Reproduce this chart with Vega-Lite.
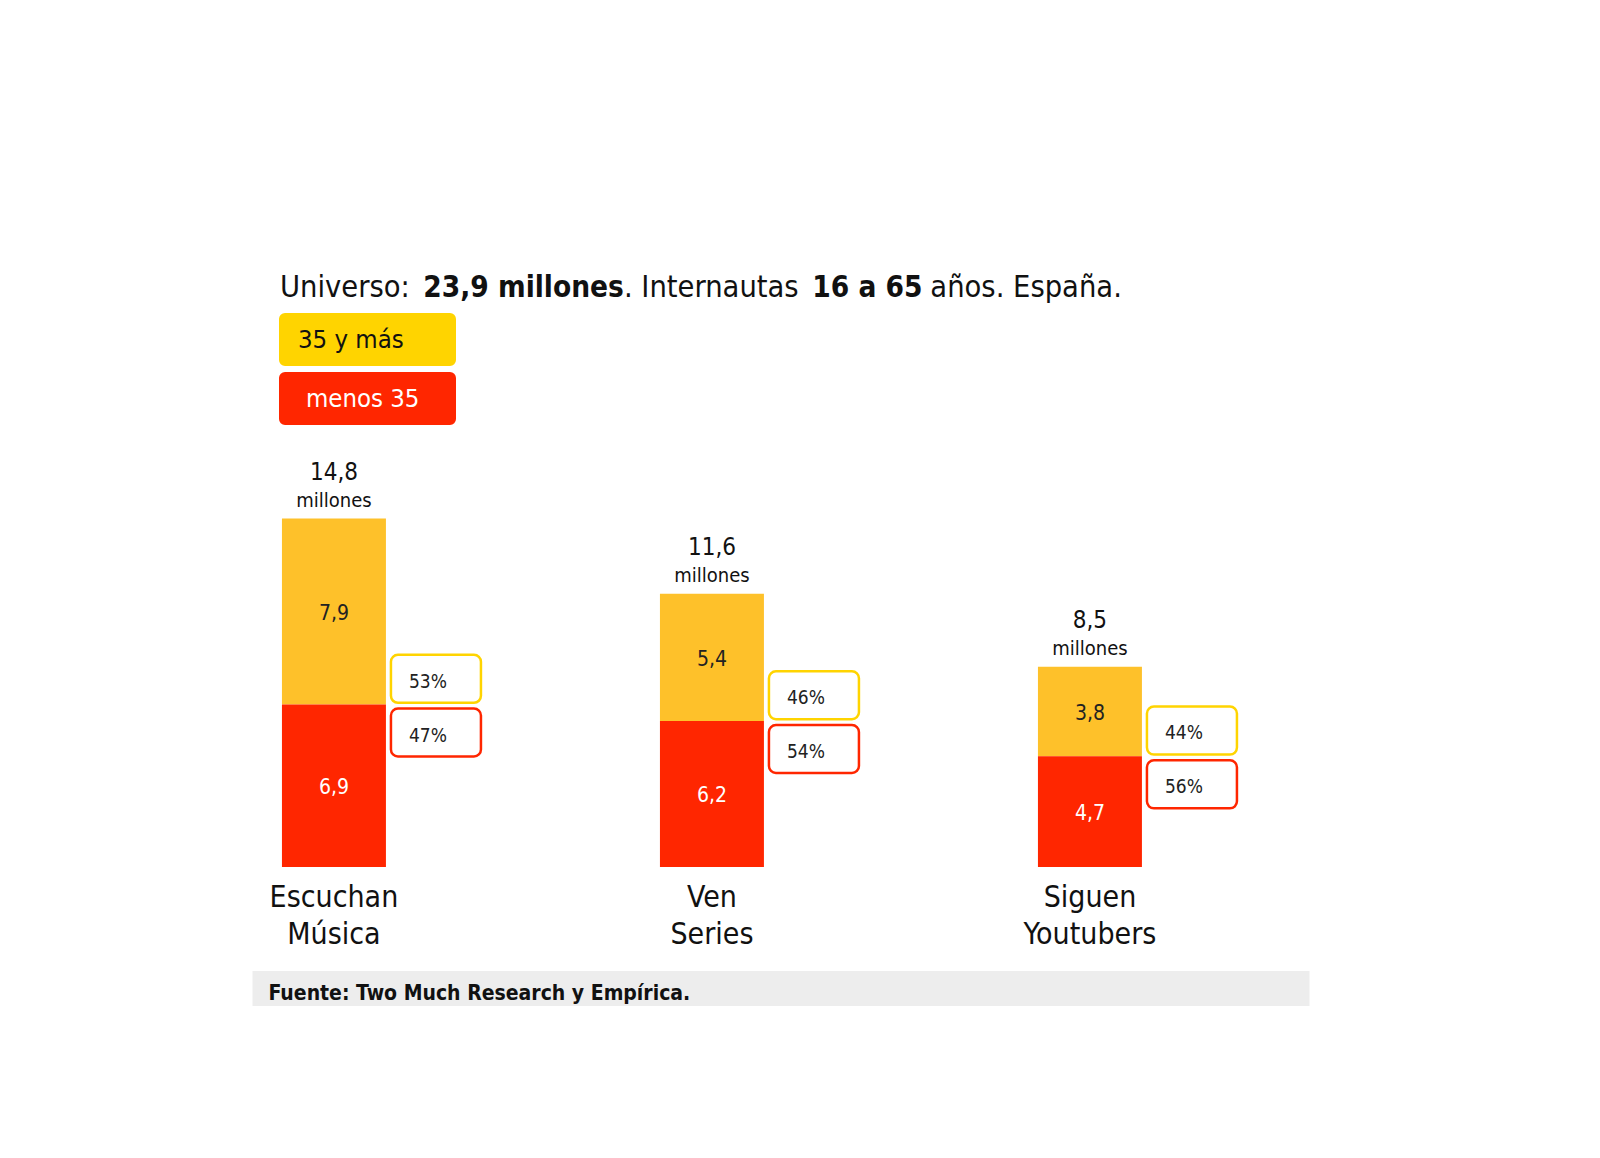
{
  "$schema": "https://vega.github.io/schema/vega-lite/v6.json",
  "description": "Internautas que escuchan música, ven series y siguen youtubers, por edad (millones)",
  "autosize": {"type": "none"},
  "padding": {"left": 252, "top": 396, "right": 291, "bottom": 291},
  "width": 1057,
  "height": 471,
  "background": "white",
  "title": {
    "text": "Universo:\u2003\u2003\u2003\u2003\u2003\u2003\u2003\u2002\u2009\u200a. Internautas\u2003\u2003\u2003\u2003\u2002\u2009\u200aaños. España.",
    "subtitle": "\u2060\u2003\u2003\u2003\u2003\u2003\u2009\u200a\u200a23,9 millones\u2003\u2003\u2003\u2003\u2003\u2003\u2002\u2009\u2009\u200a\u200a16 a 65",
    "anchor": "start",
    "frame": "group",
    "dx": 28,
    "offset": 9,
    "fontSize": 30.5,
    "fontWeight": "normal",
    "color": "#111111",
    "subtitleFontSize": 29.5,
    "subtitleFontWeight": "bold",
    "subtitleColor": "#111111",
    "subtitlePadding": -30
  },
  "data": {
    "values": [
      {"actividad": "Escuchan Música", "edad": "35 y más", "millones": 7.9, "cuota": 0.53},
      {"actividad": "Escuchan Música", "edad": "menos 35", "millones": 6.9, "cuota": 0.47},
      {"actividad": "Ven Series", "edad": "35 y más", "millones": 5.4, "cuota": 0.46},
      {"actividad": "Ven Series", "edad": "menos 35", "millones": 6.2, "cuota": 0.54},
      {"actividad": "Siguen Youtubers", "edad": "35 y más", "millones": 3.8, "cuota": 0.44},
      {"actividad": "Siguen Youtubers", "edad": "menos 35", "millones": 4.7, "cuota": 0.56}
    ]
  },
  "transform": [
    {"stack": "millones", "groupby": ["actividad"], "sort": [{"field": "edad", "order": "descending"}], "as": ["base", "cima"]},
    {"calculate": "(datum.base + datum.cima) / 2", "as": "centro"},
    {"calculate": "datum.edad == 'menos 35' ? datum.cima : datum.base", "as": "corte"}
  ],
  "encoding": {
    "x": {
      "field": "actividad",
      "type": "nominal",
      "scale": {
        "domain": ["Escuchan Música", "Ven Series", "Siguen Youtubers"],
        "paddingInner": 0.7249,
        "paddingOuter": 0.2606,
        "align": 0.152
      },
      "axis": {
        "orient": "bottom",
        "offset": 121,
        "ticks": false,
        "tickSize": 0,
        "grid": false,
        "domainWidth": 35,
        "domainColor": "#ededed",
        "domainCap": "butt",
        "labelAngle": 0,
        "labelFontSize": 30,
        "labelColor": "#111111",
        "labelPadding": -106,
        "labelBaseline": "top",
        "labelLineHeight": 37,
        "labelExpr": "split(datum.label, ' ')",
        "labelOverlap": false,
        "labelFlush": false,
        "labelBound": false,
        "title": "Fuente: Two Much Research y Empírica.",
        "titleFontSize": 21,
        "titleFontWeight": "bold",
        "titleColor": "#111111",
        "titleX": 16,
        "titleY": 11,
        "titleAlign": "left",
        "titleAnchor": "start",
        "titleBaseline": "alphabetic"
      }
    }
  },
  "layer": [
    {
      "mark": {"type": "bar"},
      "encoding": {
        "y": {"field": "base", "type": "quantitative", "scale": {"domain": [0, 20]}, "axis": null},
        "y2": {"field": "cima"},
        "color": {
          "field": "edad",
          "type": "nominal",
          "scale": {"domain": ["35 y más", "menos 35"], "range": ["#fec12a", "#ff2600"]},
          "legend": {
            "orient": "none",
            "legendX": 27,
            "legendY": -83,
            "title": null,
            "direction": "vertical",
            "padding": 0,
            "symbolType": "M-1,-1H0.8644V-0.5367H-1ZM-1,-0.8701H0.8644M-1,-0.7684H0.8644M-1,-0.6667H0.8644",
            "symbolSize": 31329,
            "symbolStrokeWidth": 12,
            "rowPadding": 5,
            "labelFontSize": 25.5,
            "labelOffset": -170,
            "labelAlign": "left",
            "labelBaseline": "middle",
            "labelLimit": 300,
            "encode": {
              "symbols": {"update": {
                "stroke": {"scale": "stroke", "field": "value"},
                "strokeJoin": {"value": "round"},
                "strokeCap": {"value": "butt"},
                "opacity": {"value": 1}
              }},
              "labels": {"update": {
                "fill": {"signal": "datum.label == 'menos 35' ? '#ffffff' : '#111111'"},
                "dx": {"signal": "datum.label == 'menos 35' ? 8 : 0"},
                "dy": {"value": -68}
              }}
            }
          }
        }
      }
    },
    {
      "mark": {"type": "text", "fontSize": 21, "baseline": "middle", "dy": 2.5},
      "encoding": {
        "y": {"field": "centro", "type": "quantitative", "scale": {"domain": [0, 20]}},
        "text": {"field": "millones", "type": "quantitative", "format": ".1f"},
        "fill": {
          "field": "edad",
          "type": "nominal",
          "scale": {"domain": ["35 y más", "menos 35"], "range": ["#222222", "#ffffff"]},
          "legend": null
        }
      }
    },
    {
      "transform": [{"filter": "datum.edad == '35 y más'"}],
      "mark": {
        "type": "point",
        "shape": "M1.4222,-1.1044H3.1111A0.1556,0.1556,0,0,1,3.2667,-0.9489V-0.1933A0.1556,0.1556,0,0,1,3.1111,-0.0378H1.4222A0.1556,0.1556,0,0,1,1.2667,-0.1933V-0.9489A0.1556,0.1556,0,0,1,1.4222,-1.1044Z",
        "filled": true,
        "fill": "white",
        "size": 8100,
        "strokeWidth": 2.5,
        "opacity": 1
      },
      "encoding": {
        "y": {"field": "corte", "type": "quantitative", "scale": {"domain": [0, 20]}},
        "stroke": {
          "field": "edad",
          "type": "nominal",
          "scale": {"domain": ["35 y más", "menos 35"], "range": ["#ffd400", "#ff2600"]},
          "legend": null
        }
      }
    },
    {
      "transform": [{"filter": "datum.edad == 'menos 35'"}],
      "mark": {
        "type": "point",
        "shape": "M1.4222,0.0889H3.1111A0.1556,0.1556,0,0,1,3.2667,0.2445V1.0A0.1556,0.1556,0,0,1,3.1111,1.1556H1.4222A0.1556,0.1556,0,0,1,1.2667,1.0V0.2445A0.1556,0.1556,0,0,1,1.4222,0.0889Z",
        "filled": true,
        "fill": "white",
        "size": 8100,
        "strokeWidth": 2.5,
        "opacity": 1
      },
      "encoding": {
        "y": {"field": "corte", "type": "quantitative", "scale": {"domain": [0, 20]}},
        "stroke": {
          "field": "edad",
          "type": "nominal",
          "scale": {"domain": ["35 y más", "menos 35"], "range": ["#ffd400", "#ff2600"]},
          "legend": null
        }
      }
    },
    {
      "transform": [{"filter": "datum.edad == '35 y más'"}],
      "mark": {"type": "text", "fontSize": 19, "dx": 94, "dy": -23, "baseline": "middle", "color": "#222222"},
      "encoding": {
        "y": {"field": "corte", "type": "quantitative", "scale": {"domain": [0, 20]}},
        "text": {"field": "cuota", "type": "quantitative", "format": ".0%"}
      }
    },
    {
      "transform": [{"filter": "datum.edad == 'menos 35'"}],
      "mark": {"type": "text", "fontSize": 19, "dx": 94, "dy": 31, "baseline": "middle", "color": "#222222"},
      "encoding": {
        "y": {"field": "corte", "type": "quantitative", "scale": {"domain": [0, 20]}},
        "text": {"field": "cuota", "type": "quantitative", "format": ".0%"}
      }
    },
    {
      "transform": [{"aggregate": [{"op": "sum", "field": "millones", "as": "total"}], "groupby": ["actividad"]}],
      "mark": {"type": "text", "fontSize": 24, "dy": -38.5, "baseline": "alphabetic", "color": "#111111"},
      "encoding": {
        "y": {"field": "total", "type": "quantitative", "scale": {"domain": [0, 20]}},
        "text": {"field": "total", "type": "quantitative", "format": ".1f"}
      }
    },
    {
      "transform": [{"aggregate": [{"op": "sum", "field": "millones", "as": "total"}], "groupby": ["actividad"]}],
      "mark": {"type": "text", "fontSize": 20, "dy": -11.5, "baseline": "alphabetic", "color": "#111111", "text": "millones"},
      "encoding": {
        "y": {"field": "total", "type": "quantitative", "scale": {"domain": [0, 20]}}
      }
    }
  ],
  "config": {
    "font": "DejaVu Sans Condensed",
    "view": {"stroke": null},
    "locale": {
      "number": {"decimal": ",", "thousands": ".", "grouping": [3], "currency": ["", " €"]}
    }
  }
}
